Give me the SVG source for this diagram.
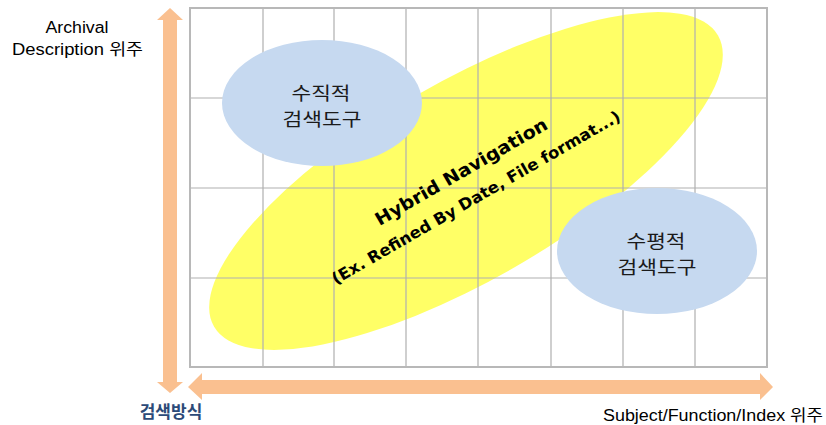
<svg xmlns="http://www.w3.org/2000/svg" width="826" height="425" viewBox="0 0 826 425">
<style>
.grid{stroke:#b0b0b0;stroke-width:1.2;fill:none}
.border{stroke:#b8b8b8;stroke-width:2;fill:none}
.blue{fill:#c6d9f0}
.yellow{fill:#ffff66}
.arrow{fill:#fac090}
.lbl{font-family:"Liberation Sans","Noto Sans CJK KR",sans-serif;font-size:16px;fill:#000}
.kr{font-family:"Noto Sans CJK KR","Liberation Sans",sans-serif;font-size:18px;fill:#1a1a1a;text-anchor:middle}
.hyb{font-family:"DejaVu Sans","Liberation Sans",sans-serif;font-weight:bold;fill:#000;text-anchor:middle}
</style>
<rect width="826" height="425" fill="#fff"/>
<g id="hybrid">
<ellipse class="yellow" cx="466" cy="181" rx="291" ry="99" transform="rotate(-30 466 181)"/>
</g>
<g id="grid">
<path class="grid" d="M263 8V367M334 8V367M406 8V367M478 8V367M551 8V367M623 8V367M695 8V367M190 98H767M190 188H767M190 278H767"/>
<rect class="border" x="190" y="8" width="577" height="359"/>
</g>
<g id="vertical-tool">
<ellipse class="blue" cx="322" cy="103" rx="100" ry="63"/>
<text class="kr" x="321" y="99.5" textLength="59" lengthAdjust="spacingAndGlyphs">수직적</text>
<text class="kr" x="322" y="125.5" textLength="79" lengthAdjust="spacingAndGlyphs">검색도구</text>
</g>
<g id="horizontal-tool">
<ellipse class="blue" cx="657" cy="251" rx="100" ry="63"/>
<text class="kr" x="656" y="247.5" textLength="59" lengthAdjust="spacingAndGlyphs">수평적</text>
<text class="kr" x="657" y="273.5" textLength="79" lengthAdjust="spacingAndGlyphs">검색도구</text>
</g>
<g id="hybrid-label" transform="translate(468.5 184.5) rotate(-30)">
<text class="hyb" x="0" y="-8.5" font-size="18" textLength="196" lengthAdjust="spacingAndGlyphs">Hybrid Navigation</text>
<text class="hyb" x="0" y="20.5" font-size="16" textLength="330" lengthAdjust="spacingAndGlyphs">(Ex. Refined By Date, File format...)</text>
</g>
<g id="connectors">
<polygon class="arrow" points="170,8 183,20 177,20 177,382 183,382 170,393 157,382 163,382 163,20 157,20"/>
<polygon class="arrow" points="188,387 202,373 202,380 760,380 760,373 773,387 760,400 760,394 202,394 202,400"/>
</g>
<g id="labels">
<text class="lbl" x="77" y="33" text-anchor="middle" textLength="63" lengthAdjust="spacingAndGlyphs">Archival</text>
<text class="lbl" x="77.5" y="55" text-anchor="middle" textLength="131" lengthAdjust="spacingAndGlyphs">Description 위주</text>
<text x="171" y="418" text-anchor="middle" font-family="'Noto Sans CJK KR',sans-serif" font-weight="bold" font-size="17" fill="#2c4a78">검색방식</text>
<text class="lbl" x="823" y="421" text-anchor="end" textLength="220" lengthAdjust="spacingAndGlyphs">Subject/Function/Index 위주</text>
</g>
</svg>
